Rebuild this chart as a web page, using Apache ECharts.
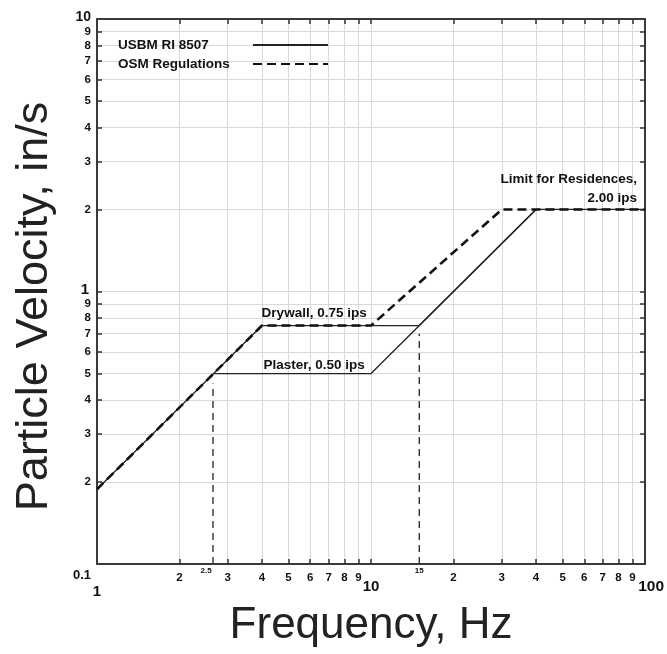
<!DOCTYPE html>
<html><head><meta charset="utf-8">
<script src="https://cdn.jsdelivr.net/npm/echarts@6/dist/echarts.min.js"></script>
<style>html,body{margin:0;padding:0;background:#fff}#c{width:667px;height:654px}</style>
</head><body><div id="c"></div>
<script>
// ---- data ----
const xGridValues = [2,3,4,5,6,7,8,9,10,20,30,40,50,60,70,80,90];
const xTickLabelValues = [1,2,2.5,3,4,5,6,7,8,9,10,15,20,30,40,50,60,70,80,90,100];
const yGridValues = [0.2,0.3,0.4,0.5,0.6,0.7,0.8,0.9,1,2,3,4,5,6,7,8,9];
const yTickLabelValues = [0.1,0.2,0.3,0.4,0.5,0.6,0.7,0.8,0.9,1,2,3,4,5,6,7,8,9,10];
const usbmMain = [[1,0.188],[4,0.75],[15,0.75],[40,2.0],[100,2.0]];
const usbmPlaster = [[2.66,0.5],[10,0.5],[40,2.0]];
const osmRegulations = [[1,0.188],[4,0.75],[10,0.75],[30,2.0],[100,2.0]];
const marker25 = [[2.65,0.1],[2.65,0.46]];
const marker15 = [[15,0.1],[15,0.70]];
const noteTexts = ['Drywall, 0.75 ips', 'Plaster, 0.50 ips', 'Limit for Residences,\n2.00 ips'];
const noteAnchors = [[6.2,0.75],[6.2,0.5],[100,2.0]];

const FONT = "'Liberation Sans', Arial, sans-serif";
const r2 = v => Math.round(v*1000)/1000;

function xLabel(v){
  v = r2(v);
  if (v === 1) return '{one|1}';
  if (v === 10) return '{ten|10}';
  if (v === 100) return '{hun|100}';
  if (v === 2.5) return '{s|2.5}';
  if (v === 15) return '{s|15}';
  return '{d|' + (v >= 10 ? r2(v/10) : v) + '}';
}
function yLabel(v){
  v = r2(v);
  if (v === 10) return '{ten|10}';
  if (v === 1) return '{one|1}';
  if (v === 0.1) return '{pt|0.1}';
  return '{d|' + (v < 1 ? Math.round(v*10) : v) + '}';
}
const tickStyle = {show:true, inside:true, length:5, lineStyle:{color:'#333', width:1.5}};
const axisLineStyle = {show:true, lineStyle:{color:'#3a3a3a', width:2}};
const gridLine = {show:true, lineStyle:{color:'#d9d9d9', width:1}};
const noteLabel = {show:true, color:'#111', fontSize:13.5, fontWeight:'bold', fontFamily:FONT, position:'top'};

const chart = echarts.init(document.getElementById('c'), null, {renderer:'canvas'});
chart.setOption({
  animation:false,
  backgroundColor:'#fff',
  textStyle:{fontFamily:FONT},
  grid:{left:97, top:19, right:21, bottom:90, containLabel:false},
  legend:{
    data:['USBM RI 8507','OSM Regulations'],
    orient:'vertical', left:118, top:38, align:'right', padding:0,
    itemWidth:75, itemHeight:12, itemGap:5,
    itemStyle:{color:'rgba(0,0,0,0)', borderColor:'rgba(0,0,0,0)', borderWidth:0},
    formatter: n => '{a|' + n + '}',
    textStyle:{fontSize:13.5, fontWeight:'bold', color:'#111', fontFamily:FONT,
      rich:{a:{width:130, align:'left', fontSize:13.5, fontWeight:'bold', color:'#111', fontFamily:FONT}}}
  },
  xAxis:[{
    type:'log', logBase:10, min:1, max:100,
    name:'Frequency, Hz', nameLocation:'middle', nameGap:40,
    nameTextStyle:{fontSize:44, color:'#222', fontFamily:FONT},
    axisLine:axisLineStyle,
    axisTick:Object.assign({customValues:xGridValues}, tickStyle),
    splitLine:gridLine,
    minorTick:{show:false}, minorSplitLine:{show:false},
    axisLabel:{
      customValues:xTickLabelValues, margin:3, formatter:xLabel, color:'#111',
      rich:{
        d:{fontSize:11.5, fontWeight:'bold', padding:[5,0,0,0], fontFamily:FONT},
        s:{fontSize:8, fontWeight:'bold', padding:[0,0,0,0], fontFamily:FONT},
        one:{fontSize:15, fontWeight:'bold', padding:[17,0,0,0], fontFamily:FONT},
        ten:{fontSize:15, fontWeight:'bold', padding:[12,0,0,0], fontFamily:FONT},
        hun:{fontSize:15.5, fontWeight:'bold', padding:[12,0,0,12], fontFamily:FONT}
      }
    }
  },{
    type:'log', logBase:10, min:1, max:100, position:'top',
    axisLine:axisLineStyle,
    axisTick:Object.assign({customValues:xGridValues}, tickStyle),
    axisLabel:{show:false}, splitLine:{show:false}
  }],
  yAxis:[{
    type:'log', logBase:10, min:0.1, max:10,
    name:'Particle Velocity, in/s', nameLocation:'middle', nameGap:40,
    nameTextStyle:{fontSize:45, color:'#222', fontFamily:FONT, padding:[0,30,0,0]},
    axisLine:axisLineStyle,
    axisTick:Object.assign({customValues:yGridValues}, tickStyle),
    splitLine:gridLine,
    axisLabel:{
      customValues:yTickLabelValues, margin:6, formatter:yLabel, color:'#111',
      rich:{
        d:{fontSize:11.5, fontWeight:'bold', fontFamily:FONT},
        one:{fontSize:15, fontWeight:'bold', padding:[0,2,4,0], fontFamily:FONT},
        ten:{fontSize:14, fontWeight:'bold', padding:[0,0,4,0], fontFamily:FONT},
        pt:{fontSize:13, fontWeight:'bold', padding:[22,0,0,0], fontFamily:FONT}
      }
    }
  },{
    type:'log', logBase:10, min:0.1, max:10, position:'right',
    axisLine:axisLineStyle,
    axisTick:Object.assign({customValues:yGridValues}, tickStyle),
    axisLabel:{show:false}, splitLine:{show:false}
  }],
  series:[
    {name:'USBM RI 8507', type:'line', data:usbmMain, symbol:'none', color:'#222',
     lineStyle:{color:'#222', width:1.3}, z:3},
    {name:'USBM RI 8507', type:'line', data:usbmPlaster, symbol:'none', color:'#222',
     lineStyle:{color:'#222', width:1.3}, z:3},
    {name:'OSM Regulations', type:'line', data:osmRegulations, symbol:'none', color:'#111',
     lineStyle:{color:'#111', width:2.6, type:[9,5]}, z:4},
    {name:'m25', type:'line', data:marker25, symbol:'none',
     lineStyle:{color:'#333', width:1.4, type:[7,5]}, z:2},
    {name:'m15', type:'line', data:marker15, symbol:'none',
     lineStyle:{color:'#333', width:1.4, type:[7,5]}, z:2},
    {name:'notes', type:'scatter', symbolSize:0, clip:false, z:5,
     itemStyle:{opacity:1},
     label:Object.assign({formatter:p=>p.name}, noteLabel),
     data:[
       {name:noteTexts[0], value:noteAnchors[0], label:{distance:5}},
       {name:noteTexts[1], value:noteAnchors[1], label:{distance:1}},
       {name:noteTexts[2], value:noteAnchors[2], label:{align:'right', offset:[-8,0], lineHeight:19, distance:2}}
     ]}
  ]
});
</script></body></html>
